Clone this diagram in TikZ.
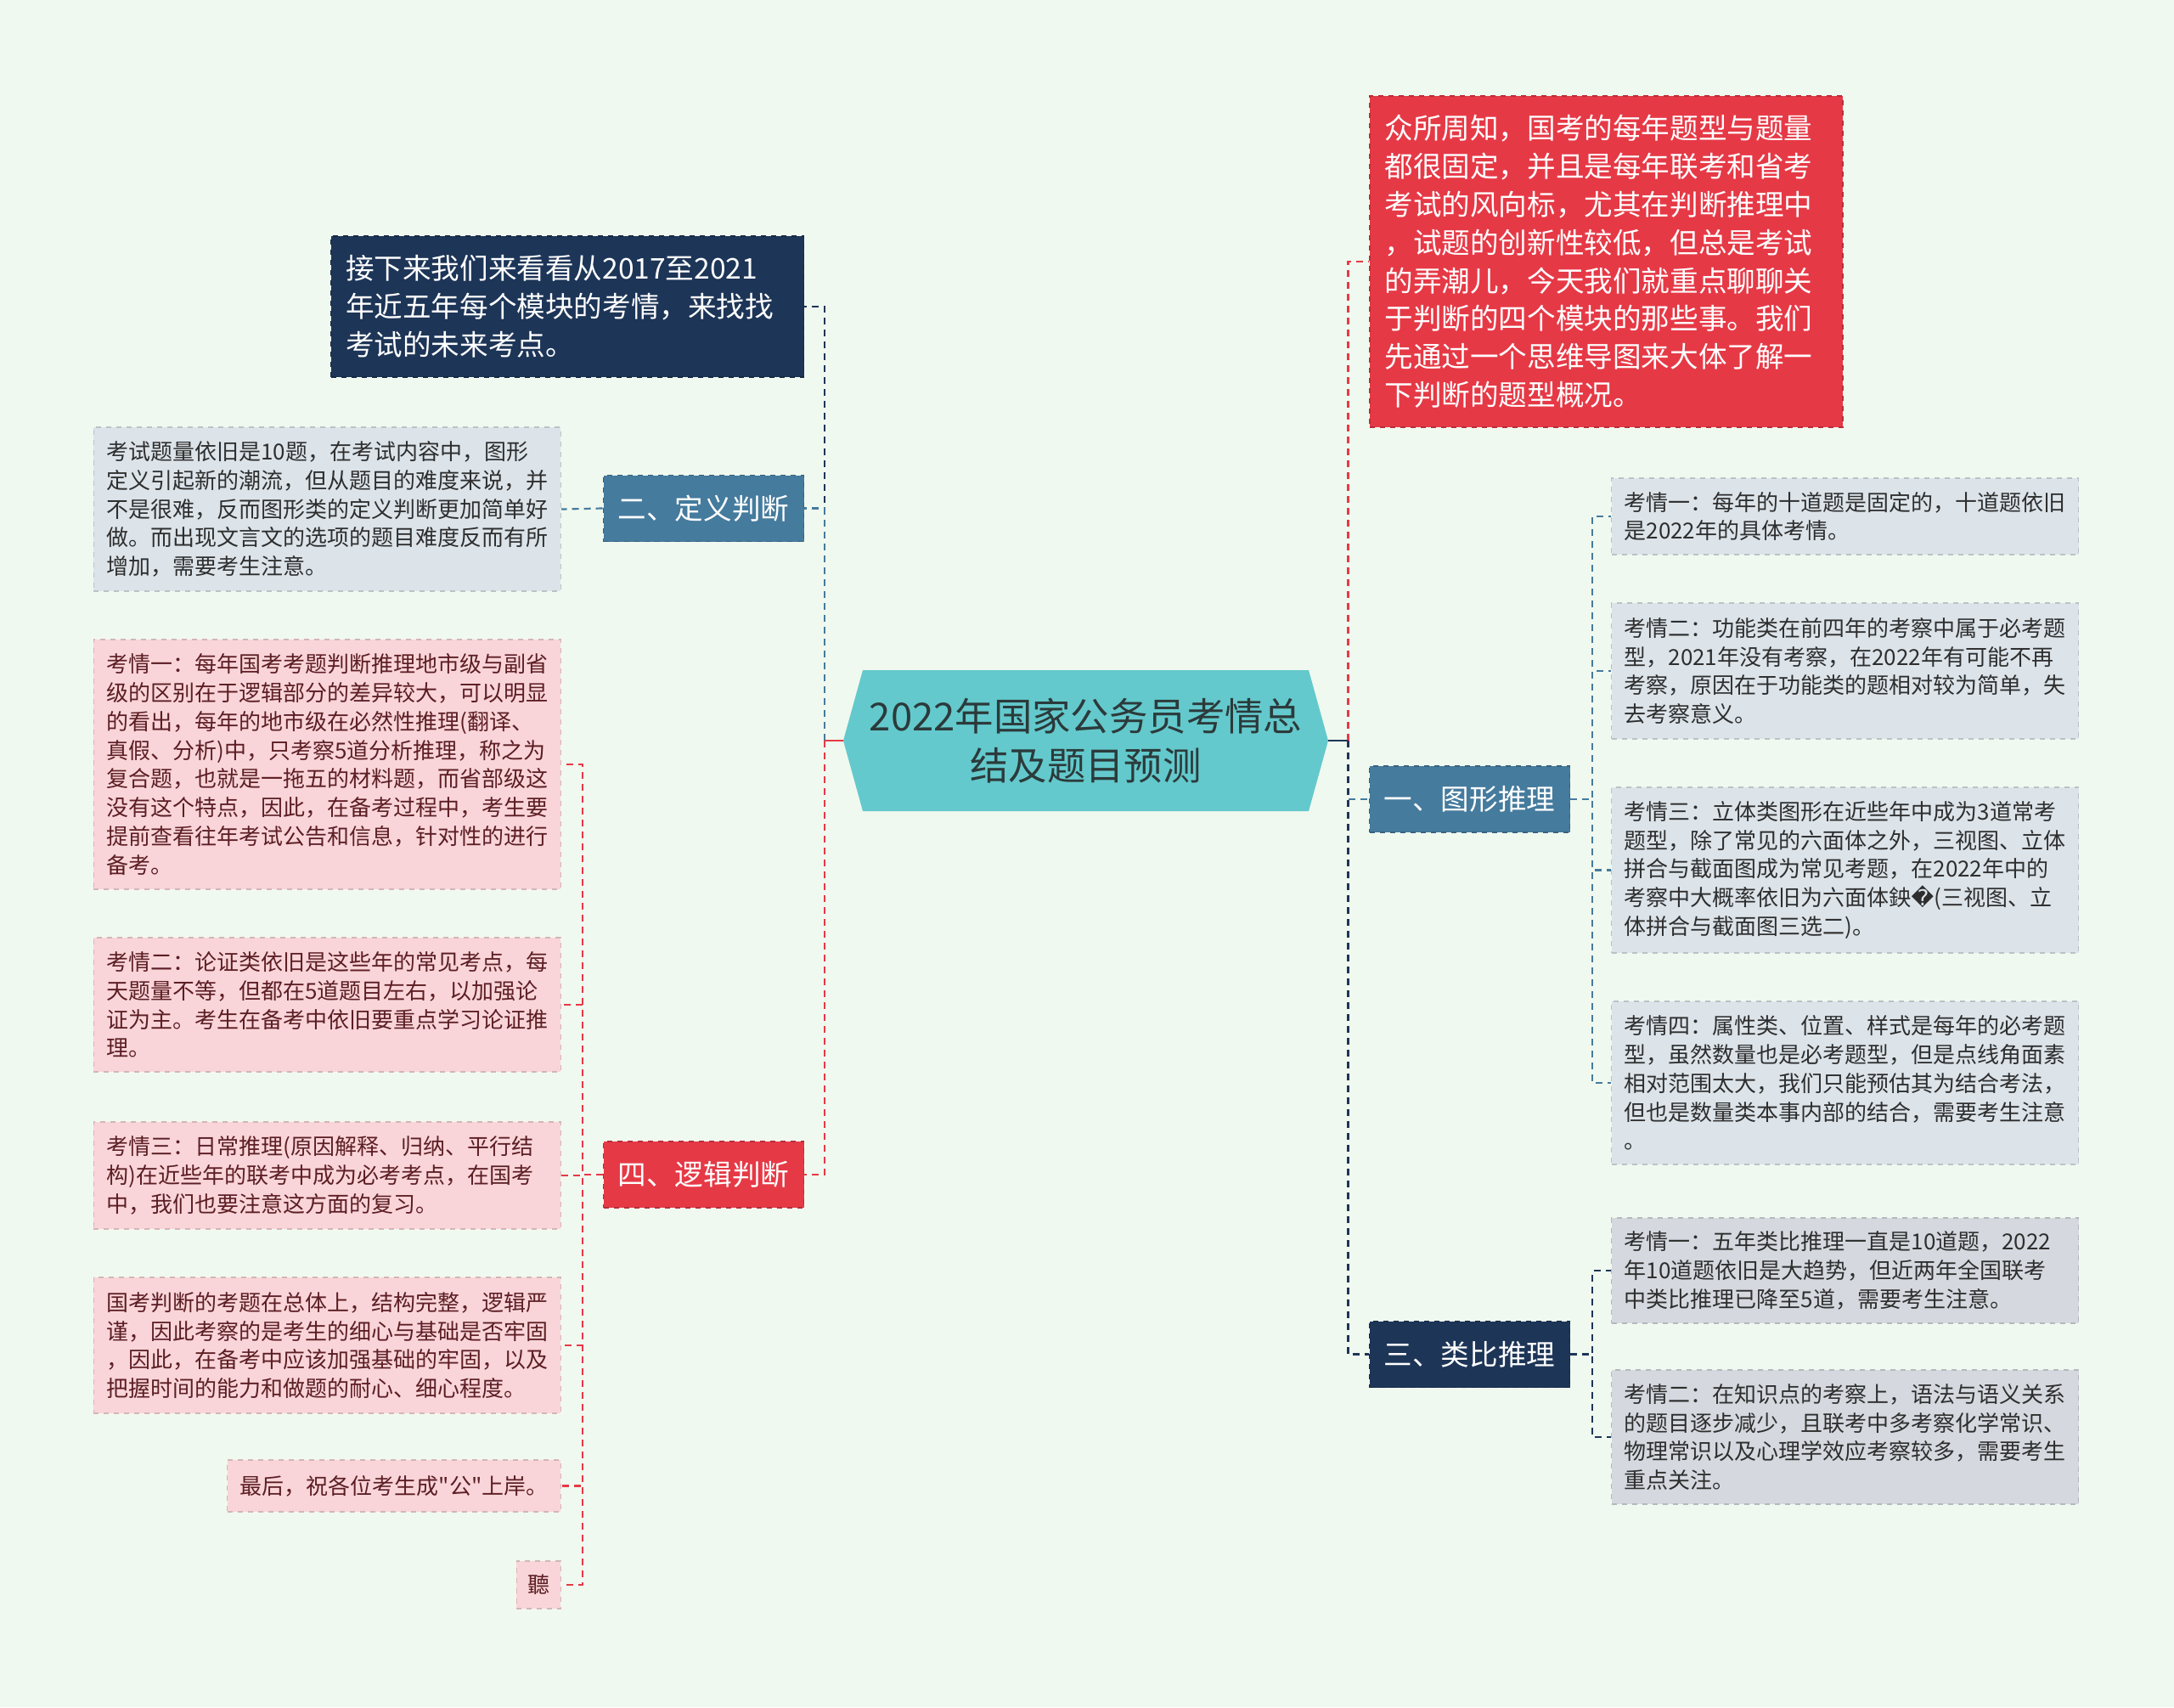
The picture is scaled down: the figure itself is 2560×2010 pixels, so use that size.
\documentclass[tikz,border=0pt]{standalone}
\usepackage{fontspec}
\setmainfont{Noto Sans CJK SC}
\newfontfamily\plaincjk{Noto Sans CJK SC}
\newfontfamily\symfont{DejaVu Sans}
\definecolor{cBg}{HTML}{F0F9EF}
\definecolor{cRoot}{HTML}{63C9CC}
\definecolor{cRootInk}{HTML}{2C3A3B}
\definecolor{cRed}{HTML}{E63946}
\definecolor{cNavy}{HTML}{1D3557}
\definecolor{cSteel}{HTML}{457B9D}
\definecolor{cMist}{HTML}{DCE4EA}
\definecolor{cGrey}{HTML}{D5D9DF}
\definecolor{cPink}{HTML}{F9D5D9}
\definecolor{cWine}{HTML}{5C1E24}
\definecolor{cInk}{HTML}{2E2E2E}
\usetikzlibrary{calc}

\begin{document}
\begin{tikzpicture}[x=0.5pt,y=-0.5pt,
      bigtxt/.style={font=\fontsize{16.8pt}{22.4pt}\selectfont},
      smalltxt/.style={font=\fontsize{13pt}{16.9pt}\selectfont},
      hub/.style={minimum width=285.5pt,minimum height=83pt,inner sep=0pt,align=center,
                  fill=cBg,text=cRootInk,font=\fontsize{22.7pt}{29.4pt}\selectfont,
                  path picture={\fill[cRoot] (path picture bounding box.west)
                    -- ($(path picture bounding box.north west)+(23,0)$)
                    -- ($(path picture bounding box.north east)+(-23,0)$)
                    -- (path picture bounding box.east)
                    -- ($(path picture bounding box.south east)+(-23,0)$)
                    -- ($(path picture bounding box.south west)+(23,0)$) -- cycle;}},
      topic/.style={bigtxt,text=white,fill=#1,draw=#1!80!black,dashed,line width=.8pt,
                    minimum width=118pt,minimum height=39pt,inner sep=0pt},
      note/.style={bigtxt,text=white,fill=#1,draw=#1!80!black,dashed,line width=.8pt,
                   text width=261pt,align=left,inner xsep=8.75pt},
      leaf/.style={smalltxt,fill=#1,draw=#1!85!black,dashed,line width=.6pt,
                   align=left,inner xsep=7.5pt,inner ysep=0pt},
      wide/.style={text width=260pt},
      lnk/.style={line width=1.1pt,dash pattern=on 4pt off 3pt},
      stub/.style={line width=1.3pt}]
    % background and frame
    \fill[cBg] (0,0) rectangle (2560,2010);
    \node[hub] (hub) at (1278.5,872) {2022年国家公务员考情总\\结及题目预测};

    % left side
    \node[note=cNavy,minimum height=83pt] (next) at (668,361)
      {接下来我们来看看从2017至2021\\年近五年每个模块的考情，来找找\\考试的未来考点。};
    \node[topic=cSteel] (t2) at (828.5,598.5) {二、定义判断};
    \node[topic=cRed] (t4) at (828.5,1383) {四、逻辑判断};
    \node[leaf=cMist,wide,text=cInk,minimum height=96.5pt,anchor=east] (d1) at (661,599.5)
      {考试题量依旧是10题，在考试内容中，图形\\定义引起新的潮流，但从题目的难度来说，并\\不是很难，反而图形类的定义判断更加简单好\\做。而出现文言文的选项的题目难度反而有所\\增加，需要考生注意。};
    \node[leaf=cPink,wide,text=cWine,minimum height=147pt,anchor=east] (l1) at (661,900)
      {考情一：每年国考考题判断推理地市级与副省\\级的区别在于逻辑部分的差异较大，可以明显\\的看出，每年的地市级在必然性推理(翻译、\\真假、分析)中，只考察5道分析推理，称之为\\复合题，也就是一拖五的材料题，而省部级这\\没有这个特点，因此，在备考过程中，考生要\\提前查看往年考试公告和信息，针对性的进行\\备考。};
    \node[leaf=cPink,wide,text=cWine,minimum height=79pt,anchor=east] (l2) at (661,1183)
      {考情二：论证类依旧是这些年的常见考点，每\\天题量不等，但都在5道题目左右，以加强论\\证为主。考生在备考中依旧要重点学习论证推\\理。};
    \node[leaf=cPink,wide,text=cWine,minimum height=63pt,anchor=east] (l3) at (661,1384)
      {考情三：日常推理(原因解释、归纳、平行结\\构)在近些年的联考中成为必考考点，在国考\\中，我们也要注意这方面的复习。};
    \node[leaf=cPink,wide,text=cWine,minimum height=80pt,anchor=east] (l4) at (661,1584)
      {国考判断的考题在总体上，结构完整，逻辑严\\谨，因此考察的是考生的细心与基础是否牢固\\，因此，在备考中应该加强基础的牢固，以及\\把握时间的能力和做题的耐心、细心程度。};
    \node[leaf=cPink,text=cWine,minimum height=30.5pt,anchor=east] (l5) at (661,1749.5)
      {最后，祝各位考生成{\plaincjk "}公{\plaincjk "}上岸。};
    \node[leaf=cPink,text=cWine,minimum height=28pt,anchor=east,inner xsep=6.5pt] (l6) at (661,1866) {聽};

    % right side
    \node[note=cRed,minimum height=195pt] (intro) at (1891.5,308)
      {众所周知，国考的每年题型与题量\\都很固定，并且是每年联考和省考\\考试的风向标，尤其在判断推理中\\，试题的创新性较低，但总是考试\\的弄潮儿，今天我们就重点聊聊关\\于判断的四个模块的那些事。我们\\先通过一个思维导图来大体了解一\\下判断的题型概况。};
    \node[topic=cSteel] (t1) at (1730.5,941) {一、图形推理};
    \node[topic=cNavy] (t3) at (1730.5,1594.5) {三、类比推理};
    \node[leaf=cMist,wide,text=cInk,minimum height=45pt,anchor=west] (r1) at (1897,608)
      {考情一：每年的十道题是固定的，十道题依旧\\是2022年的具体考情。};
    \node[leaf=cMist,wide,text=cInk,minimum height=80pt,anchor=west] (r2) at (1897,790)
      {考情二：功能类在前四年的考察中属于必考题\\型，2021年没有考察，在2022年有可能不再\\考察，原因在于功能类的题相对较为简单，失\\去考察意义。};
    \node[leaf=cMist,wide,text=cInk,minimum height=97.5pt,anchor=west] (r3) at (1897,1024.5)
      {考情三：立体类图形在近些年中成为3道常考\\题型，除了常见的六面体之外，三视图、立体\\拼合与截面图成为常见考题，在2022年中的\\考察中大概率依旧为六面体鉠{\symfont �}(三视图、立\\体拼合与截面图三选二)。};
    \node[leaf=cMist,wide,text=cInk,minimum height=96pt,anchor=west] (r4) at (1897,1275)
      {考情四：属性类、位置、样式是每年的必考题\\型，虽然数量也是必考题型，但是点线角面素\\相对范围太大，我们只能预估其为结合考法，\\但也是数量类本事内部的结合，需要考生注意\\。};
    \node[leaf=cGrey,wide,text=cInk,minimum height=62pt,anchor=west] (s1) at (1897,1496)
      {考情一：五年类比推理一直是10道题，2022\\年10道题依旧是大趋势，但近两年全国联考\\中类比推理已降至5道，需要考生注意。};
    \node[leaf=cGrey,wide,text=cInk,minimum height=79pt,anchor=west] (s2) at (1897,1692)
      {考情二：在知识点的考察上，语法与语义关系\\的题目逐步减少，且联考中多考察化学常识、\\物理常识以及心理学效应考察较多，需要考生\\重点关注。};

    % connectors
    \coordinate (lt) at ($(hub.west)+(-22,0)$);
    \coordinate (rt) at ($(hub.east)+(23,0)$);
    \draw[lnk,cNavy] (lt) |- (next.east);
    \draw[lnk,cSteel] (lt) |- (t2.east);
    \draw[lnk,cRed] (lt) |- (t4.east);
    \draw[stub,cRed] (hub.west) -- (lt);
    \draw[lnk,cRed] (rt) |- (intro.west);
    \draw[lnk,cSteel] (rt) |- (t1.west);
    \draw[lnk,cNavy] (rt) |- (t3.west);
    \draw[stub,cNavy] (hub.east) -- (rt);

    \draw[lnk,cSteel] (t2.west) -- (d1.east);
    \coordinate (j4) at ($(t4.west)+(-24,0)$);
    \foreach \c in {l1,l2,l3,l4,l5,l6}
      \draw[lnk,cRed] (t4.west) -- (j4) |- (\c.east);
    \coordinate (j1) at ($(t1.east)+(26,0)$);
    \foreach \c in {r1,r2,r3,r4}
      \draw[lnk,cSteel] (t1.east) -- (j1) |- (\c.west);
    \coordinate (j3) at ($(t3.east)+(26,0)$);
    \foreach \c in {s1,s2}
      \draw[lnk,cNavy] (t3.east) -- (j3) |- (\c.west);
\end{tikzpicture}
\end{document}
